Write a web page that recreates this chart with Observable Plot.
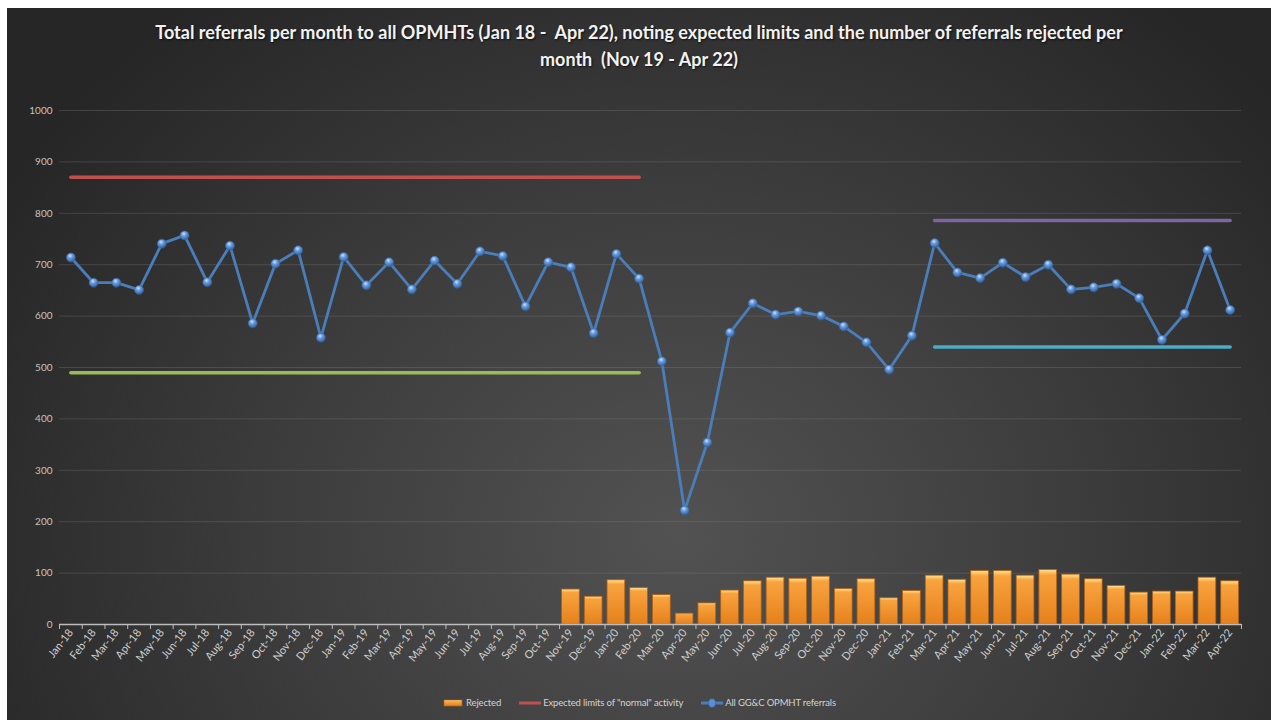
<!DOCTYPE html>
<html><head><meta charset="utf-8">
<script src="https://cdn.jsdelivr.net/npm/d3@7"></script>
<script src="https://cdn.jsdelivr.net/npm/@observablehq/plot@0.6"></script>
<style>
html,body{margin:0;padding:0;background:#fff;width:1271px;height:720px;overflow:hidden;}
#frame{position:absolute;left:7px;top:8px;width:1264px;height:712px;overflow:hidden;
  background: radial-gradient(ellipse 62% 95% at 53% 74%, #525252 0%, #3d3d3d 50%, #262626 100%);
  font-family: Lato, "Open Sans", sans-serif;}
#title{position:absolute;left:0;top:11px;width:100%;text-align:center;color:#f2f2f2;font-weight:700;
  font-size:18px;line-height:27px;text-shadow:1px 1px 2px rgba(0,0,0,.7);}
#chart{position:absolute;left:0;top:82px;}
#legend{position:absolute;top:689px;left:0;width:100%;display:flex;justify-content:center;align-items:center;
  gap:18px;color:#d4d4d4;font-size:9.5px;letter-spacing:-0.15px;}
#legend .item{display:flex;align-items:center;gap:2px;}
</style>
</head><body>
<div id="frame">
  <div id="title">Total referrals per month to all OPMHTs (Jan 18 -&nbsp; Apr 22), noting expected limits and the number of referrals rejected per<br>month&nbsp; (Nov 19 - Apr 22)</div>
  <div id="chart"></div>
  <div id="legend"></div>
</div>
<script>
const months = ["Jan-18","Feb-18","Mar-18","Apr-18","May-18","Jun-18","Jul-18","Aug-18","Sep-18","Oct-18","Nov-18","Dec-18",
  "Jan-19","Feb-19","Mar-19","Apr-19","May-19","Jun-19","Jul-19","Aug-19","Sep-19","Oct-19","Nov-19","Dec-19",
  "Jan-20","Feb-20","Mar-20","Apr-20","May-20","Jun-20","Jul-20","Aug-20","Sep-20","Oct-20","Nov-20","Dec-20",
  "Jan-21","Feb-21","Mar-21","Apr-21","May-21","Jun-21","Jul-21","Aug-21","Sep-21","Oct-21","Nov-21","Dec-21",
  "Jan-22","Feb-22","Mar-22","Apr-22"];
const referrals = [714,665,665,651,741,757,666,737,586,702,728,558,
  715,660,705,652,708,663,726,717,619,705,695,567,
  721,673,512,222,354,568,625,603,609,601,580,549,
  496,562,742,685,674,704,676,700,652,656,663,635,
  554,605,728,612];
const rejectedMonths = ["Nov-19","Dec-19","Jan-20","Feb-20","Mar-20","Apr-20","May-20","Jun-20","Jul-20","Aug-20","Sep-20","Oct-20","Nov-20","Dec-20",
  "Jan-21","Feb-21","Mar-21","Apr-21","May-21","Jun-21","Jul-21","Aug-21","Sep-21","Oct-21","Nov-21","Dec-21",
  "Jan-22","Feb-22","Mar-22","Apr-22"];
const rejected = [68,54,86,71,57,21,41,66,84,91,89,93,69,88,51,65,95,87,104,104,95,106,97,88,75,62,64,64,91,84];
const normalPeriod = ["Jan-18","Feb-20"];
const normalUpper = 870, normalLower = 490;
const recentPeriod = ["Mar-21","Apr-22"];
const recentUpper = 786, recentLower = 540;
const yTicks = [0,100,200,300,400,500,600,700,800,900,1000];

const colors = {bar:"#f39a33", normal:"#c0504d", lower:"#9bbb59", recentUp:"#8064a2", recentLow:"#4bacc6", line:"#4a7ebb"};

const W = 1264, H = 590, ML = 52, MR = 30, MT = 20, MB = 56;
const step = (W - ML - MR) / months.length;

const refData = months.map((m, i) => ({month: m, value: referrals[i]}));
const rejData = rejectedMonths.map((m, i) => ({month: m, value: rejected[i]}));
const seg = (period, v) => period.map(m => ({month: m, value: v}));

const defs = () => {
  const d = d3.create("svg:defs");
  const bg = d.append("linearGradient").attr("id","barGrad").attr("x1",0).attr("y1",0).attr("x2",0).attr("y2",1);
  [[0,"#ffe39a"],[0.05,"#fdc465"],[0.1,"#f8a33f"],[1,"#e6801b"]].forEach(([o,c]) => bg.append("stop").attr("offset",o).attr("stop-color",c));
  const dg = d.append("radialGradient").attr("id","dotGrad").attr("cx",0.42).attr("cy",0.32).attr("r",0.7);
  [[0,"#cfe3ff"],[0.35,"#6d9fe0"],[1,"#2f5f9e"]].forEach(([o,c]) => dg.append("stop").attr("offset",o).attr("stop-color",c));
  return d.node();
};

const chart = Plot.plot({
  width: W, height: H,
  marginLeft: ML, marginRight: MR, marginTop: MT, marginBottom: MB,
  style: {background: "transparent", color: "#c8c8c8", fontFamily: "Lato, 'Open Sans', sans-serif", overflow: "visible"},
  x: {type: "band", domain: months, paddingInner: 0.22, paddingOuter: 0.11, label: null},
  y: {domain: [0, 1000], label: null},
  marks: [
    defs,
    Plot.gridY(yTicks, {stroke: "#8c8c8c", strokeOpacity: 0.28}),
    Plot.axisY(yTicks, {tickSize: 0, tickPadding: 7, fontSize: 10, fill: "#c4c4c4", label: null, tickFormat: d => String(d)}),
    Plot.barY(rejData, {x: "month", y: "value", fill: "url(#barGrad)", stroke: "#b4600f", strokeWidth: 0.8}),
    Plot.ruleY([0], {stroke: "#bdbdbd", strokeWidth: 1.3}),
    Plot.axisX({tickSize: 5, text: null, dx: -step/2, stroke: "#bdbdbd", label: null}),
    Plot.axisX([months[months.length-1]], {tickSize: 5, text: null, dx: step/2, stroke: "#bdbdbd", label: null}),
    Plot.axisX({tickSize: 0, tickPadding: 6, tickRotate: -52, fontSize: 11, fill: "#cfcfcf", label: null}),
    Plot.line(seg(normalPeriod, normalUpper), {x: "month", y: "value", stroke: colors.normal, strokeWidth: 3.5}),
    Plot.line(seg(normalPeriod, normalLower), {x: "month", y: "value", stroke: colors.lower, strokeWidth: 3.5}),
    Plot.line(seg(recentPeriod, recentUpper), {x: "month", y: "value", stroke: colors.recentUp, strokeWidth: 3.5}),
    Plot.line(seg(recentPeriod, recentLower), {x: "month", y: "value", stroke: colors.recentLow, strokeWidth: 3.5}),
    Plot.line(refData, {x: "month", y: "value", stroke: colors.line, strokeWidth: 2.8}),
    Plot.dot(refData, {x: "month", y: "value", r: 4.5, fill: "url(#dotGrad)", stroke: "#34649f", strokeWidth: 0.6})
  ]
});
document.getElementById("chart").appendChild(chart);

const legendItems = [
  {label: "Rejected", kind: "bar"},
  {label: 'Expected limits of "normal" activity', kind: "line", color: colors.normal},
  {label: "All GG&C OPMHT referrals", kind: "marker", color: colors.line}
];
const legend = d3.select("#legend");
legendItems.forEach(it => {
  const item = legend.append("div").attr("class","item");
  const s = item.append("svg").attr("width", 22).attr("height", 10);
  if (it.kind === "bar") {
    const g = s.append("defs").append("linearGradient").attr("id","legBar").attr("x1",0).attr("y1",0).attr("x2",0).attr("y2",1);
    [[0,"#ffe39a"],[0.3,"#f8a33f"],[1,"#e6801b"]].forEach(([o,c]) => g.append("stop").attr("offset",o).attr("stop-color",c));
    s.append("rect").attr("x",2).attr("y",2).attr("width",18).attr("height",6).attr("fill","url(#legBar)").attr("stroke","#b4600f").attr("stroke-width",0.7);
  } else {
    s.append("line").attr("x1",0).attr("x2",22).attr("y1",5).attr("y2",5).attr("stroke",it.color).attr("stroke-width",3);
    if (it.kind === "marker") s.append("ellipse").attr("cx",11).attr("cy",5).attr("rx",3.5).attr("ry",4.2).attr("fill","#5b8fd3").attr("stroke","#34649f").attr("stroke-width",0.6);
  }
  item.append("span").text(it.label);
});
</script>
</body></html>
